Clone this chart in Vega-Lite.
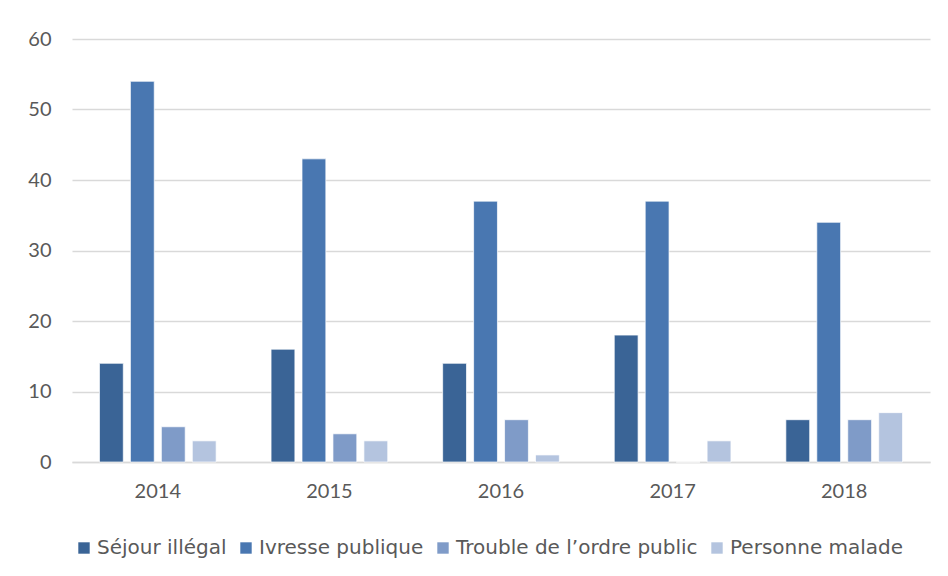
{
  "$schema": "https://vega.github.io/schema/vega-lite/v6.json",
  "width": 858,
  "height": 423,
  "autosize": {"type": "none"},
  "padding": {"left": 72, "top": 39, "right": 18, "bottom": 114},
  "background": "white",
  "config": {
    "font": "Lato",
    "view": {"stroke": null}
  },
  "data": {
    "values": [
      {"year": "2014", "cat": "Séjour illégal", "v": 14},
      {"year": "2014", "cat": "Ivresse publique", "v": 54},
      {"year": "2014", "cat": "Trouble de l’ordre public", "v": 5},
      {"year": "2014", "cat": "Personne malade", "v": 3},
      {"year": "2015", "cat": "Séjour illégal", "v": 16},
      {"year": "2015", "cat": "Ivresse publique", "v": 43},
      {"year": "2015", "cat": "Trouble de l’ordre public", "v": 4},
      {"year": "2015", "cat": "Personne malade", "v": 3},
      {"year": "2016", "cat": "Séjour illégal", "v": 14},
      {"year": "2016", "cat": "Ivresse publique", "v": 37},
      {"year": "2016", "cat": "Trouble de l’ordre public", "v": 6},
      {"year": "2016", "cat": "Personne malade", "v": 1},
      {"year": "2017", "cat": "Séjour illégal", "v": 18},
      {"year": "2017", "cat": "Ivresse publique", "v": 37},
      {"year": "2017", "cat": "Trouble de l’ordre public", "v": 0},
      {"year": "2017", "cat": "Personne malade", "v": 3},
      {"year": "2018", "cat": "Séjour illégal", "v": 6},
      {"year": "2018", "cat": "Ivresse publique", "v": 34},
      {"year": "2018", "cat": "Trouble de l’ordre public", "v": 6},
      {"year": "2018", "cat": "Personne malade", "v": 7}
    ]
  },
  "mark": {"type": "bar", "stroke": "white", "strokeWidth": 1, "strokeOpacity": 0.7},
  "encoding": {
    "x": {
      "field": "year", "type": "nominal",
      "scale": {"paddingInner": 0.32, "paddingOuter": 0.16},
      "axis": {
        "title": null, "labelAngle": 0, "ticks": false,
        "domainColor": "#D9D9D9", "domainWidth": 1.5,
        "labelFontSize": 20, "labelColor": "#595959", "labelPadding": 19
      }
    },
    "xOffset": {
      "field": "cat", "type": "nominal",
      "sort": ["Séjour illégal", "Ivresse publique", "Trouble de l’ordre public", "Personne malade"],
      "scale": {"paddingInner": 0.23, "paddingOuter": 0}
    },
    "y": {
      "field": "v", "type": "quantitative",
      "scale": {"domain": [0, 60]},
      "axis": {
        "title": null, "values": [0, 10, 20, 30, 40, 50, 60],
        "domain": false, "ticks": false,
        "gridColor": "#D9D9D9", "gridWidth": 1.5,
        "labelFontSize": 20, "labelColor": "#595959", "labelPadding": 21
      }
    },
    "color": {
      "field": "cat", "type": "nominal",
      "sort": ["Séjour illégal", "Ivresse publique", "Trouble de l’ordre public", "Personne malade"],
      "scale": {
        "domain": ["Séjour illégal", "Ivresse publique", "Trouble de l’ordre public", "Personne malade"],
        "range": ["#3A6496", "#4977B1", "#7F9BC8", "#B4C4DF"]
      },
      "legend": {
        "title": null, "orient": "none", "direction": "horizontal",
        "legendX": 2, "legendY": 499,
        "symbolType": "square", "symbolSize": 130, "symbolStrokeWidth": 0,
        "labelFont": "DejaVu Sans",
        "labelFontSize": 20, "labelColor": "#595959", "labelOffset": 3,
        "columnPadding": 9, "labelLimit": 400
      }
    }
  }
}
